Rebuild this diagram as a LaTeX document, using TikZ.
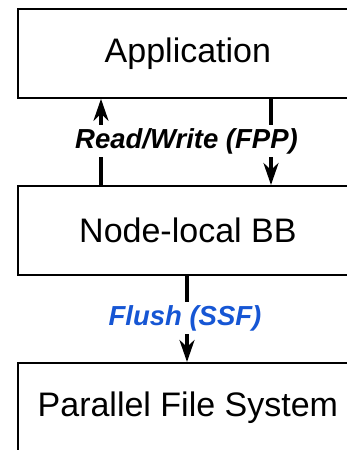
\documentclass[tikz,border=0pt]{standalone}
\usepackage{fontspec}
\setmainfont{Liberation Sans}
\usetikzlibrary{arrows.meta,calc}
\definecolor{flushblue}{RGB}{22,86,212}
\tikzset{
  box/.style={draw=black, line width=1.8pt, minimum width=340pt, minimum height=89pt,
    inner sep=0pt, font=\fontsize{34}{40}\selectfont, anchor=north west},
  conn/.style={line width=3.5pt, -{Stealth[length=22pt,width=15pt,inset=7pt]}},
  lbl/.style={fill=white, inner xsep=1pt, inner ysep=3pt, font=\fontsize{27.5}{32}\selectfont\bfseries\itshape}
}
\begin{document}
\begin{tikzpicture}[x=1pt,y=-1pt]
\useasboundingbox (0,0) rectangle (347,450);
\clip (0,0) rectangle (347,450);
\node[box] (app) at (17,8) {Application};
\node[box] (bb) at (17,185) {Node-local BB};
\node[box] (pfs) at (17,362) {Parallel File System};
\coordinate (upA) at ($(bb.north west)+(84,0)$);
\coordinate (upB) at ($(app.south west)+(84,0)$);
\coordinate (dnA) at ($(app.south west)+(254,0)$);
\coordinate (dnB) at ($(bb.north west)+(254,0)$);
\coordinate (flA) at ($(bb.south west)+(170,0)$);
\coordinate (flB) at ($(pfs.north west)+(170,0)$);
\draw[conn] (upA) -- (upB);
\draw[conn] (dnA) -- (dnB);
\draw[conn] (flA) -- (flB);
\node[lbl] (rw) at (186.5,141) {Read/Write (FPP)};
\node[lbl, text=flushblue] (fl) at (185,318) {Flush (SSF)};
\end{tikzpicture}
\end{document}
